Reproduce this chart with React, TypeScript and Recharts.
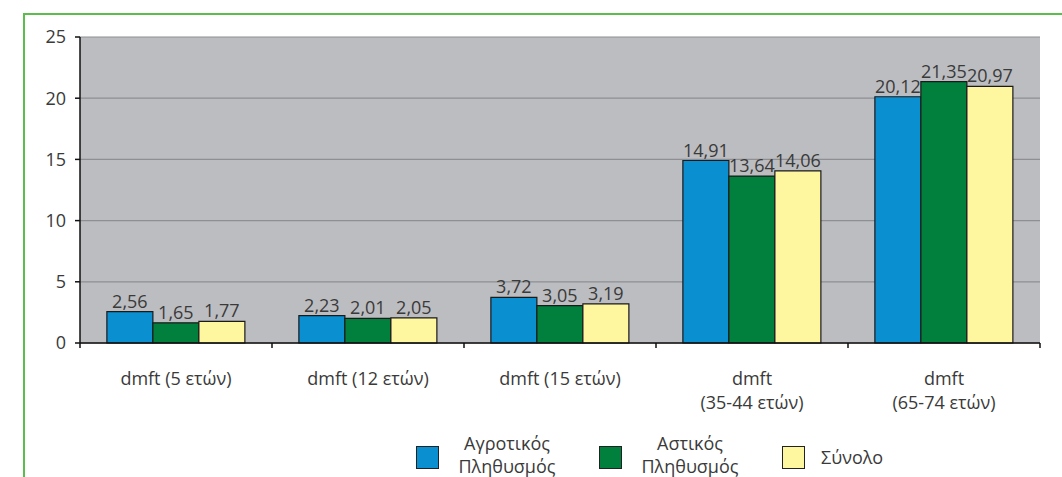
import React from 'react';
import { BarChart, Bar, XAxis, YAxis, CartesianGrid, LabelList } from 'recharts';

// Age groups (a "\n" breaks the label onto a second line)
const categories = [
  'dmft (5 ετών)',
  'dmft (12 ετών)',
  'dmft (15 ετών)',
  'dmft\n(35-44 ετών)',
  'dmft\n(65-74 ετών)',
];
const rural = [2.56, 2.23, 3.72, 14.91, 20.12];
const urban = [1.65, 2.01, 3.05, 13.64, 21.35];
const total = [1.77, 2.05, 3.19, 14.06, 20.97];
const yTicks = [0, 5, 10, 15, 20, 25];
const seriesNames = ['Αγροτικός\nΠληθυσμός', 'Αστικός\nΠληθυσμός', 'Σύνολο'];

const seriesKeys = ['rural', 'urban', 'total'];
const seriesColors = ['#0a8fd1', '#00803c', '#fff6a0'];

const data = categories.map((name, i) => ({
  name,
  rural: rural[i],
  urban: urban[i],
  total: total[i],
}));

const W = 1062;
const H = 477;
const X_AXIS_H = 30;
const MARGIN = { top: 37, right: 22, bottom: 134 - X_AXIS_H, left: 0 };
const Y_AXIS_W = 80;
const PLOT_W = W - MARGIN.left - MARGIN.right - Y_AXIS_W;
const FONT = '"Open Sans", "DejaVu Sans", sans-serif';
const TEXT = '#3a3a3a';

const fmt = (v: any) => Number(v).toFixed(2).replace('.', ',');

const CategoryTick = (props: any) => {
  const { x, y, payload, index } = props;
  const half = PLOT_W / categories.length / 2;
  const lines = String(payload.value).split('\n');
  return (
    <g>
      <line x1={x - half} x2={x - half} y1={y - 5} y2={y} stroke="#111" strokeWidth={1.5} />
      {index === categories.length - 1 && (
        <line x1={x + half} x2={x + half} y1={y - 5} y2={y} stroke="#111" strokeWidth={1.5} />
      )}
      {lines.map((t, i) => (
        <text
          key={i}
          x={x}
          y={y + 37 + i * 24}
          textAnchor="middle"
          fill={TEXT}
          fontSize={18}
          fontFamily={FONT}
        >
          {t}
        </text>
      ))}
    </g>
  );
};

export default function App() {
  return (
    <div style={{ position: 'absolute', left: 0, top: 0, width: W, height: H, background: '#fff' }}>
      {/* frame */}
      <div
        style={{
          position: 'absolute',
          left: 23,
          top: 13,
          width: W - 23,
          height: H - 13,
          borderTop: '2.5px solid #5cbd4c',
          borderLeft: '2.5px solid #5cbd4c',
          boxSizing: 'border-box',
        }}
      />
      <div style={{ position: 'absolute', left: 0, top: 0 }}>
        <BarChart
          width={W}
          height={H}
          data={data}
          margin={MARGIN}
          barCategoryGap="14%"
          barGap={0}
        >
          <CartesianGrid vertical={false} stroke="#8e8f92" strokeWidth={1.2} fill="#bcbdc0" />
          <XAxis
            dataKey="name"
            height={X_AXIS_H}
            interval={0}
            tickLine={false}
            tickSize={5}
            tickMargin={0}
            axisLine={{ stroke: '#111', strokeWidth: 1.5 }}
            tick={<CategoryTick />}
          />
          <YAxis
            width={Y_AXIS_W}
            domain={[0, 25]}
            ticks={yTicks}
            interval={0}
            tickSize={5}
            tickMargin={9}
            axisLine={{ stroke: '#111', strokeWidth: 1.5 }}
            tickLine={{ stroke: '#111', strokeWidth: 1.5 }}
            tick={{ fill: TEXT, fontSize: 18, fontFamily: FONT }}
          />
          {seriesKeys.map((k, i) => (
            <Bar
              key={k}
              dataKey={k}
              fill={seriesColors[i]}
              stroke="#1a1a1a"
              strokeWidth={1.2}
              isAnimationActive={false}
            >
              <LabelList
                dataKey={k}
                position="top"
                offset={4}
                formatter={fmt}
                fill={TEXT}
                fontSize={18}
                fontFamily={FONT}
              />
            </Bar>
          ))}
        </BarChart>
      </div>
      {/* legend */}
      <div
        style={{
          position: 'absolute',
          left: 416,
          top: 432,
          display: 'flex',
          alignItems: 'center',
          fontFamily: FONT,
          fontSize: 18,
          color: TEXT,
          lineHeight: '23px',
        }}
      >
        {seriesNames.map((n, i) => (
          <div key={i} style={{ display: 'flex', alignItems: 'center' }}>
            <div
              style={{
                width: 23,
                height: 23,
                boxSizing: 'border-box',
                border: '1.5px solid #222',
                background: seriesColors[i],
                marginTop: 4,
              }}
            />
            <div
              style={{
                width: i < 2 ? 100 : 'auto',
                marginLeft: i < 2 ? 18 : 16,
                marginRight: i < 2 ? 42 : 0,
                textAlign: i < 2 ? 'center' : 'left',
                whiteSpace: 'pre',
                marginTop: i < 2 ? 0 : 4,
              }}
            >
              {n}
            </div>
          </div>
        ))}
      </div>
    </div>
  );
}
